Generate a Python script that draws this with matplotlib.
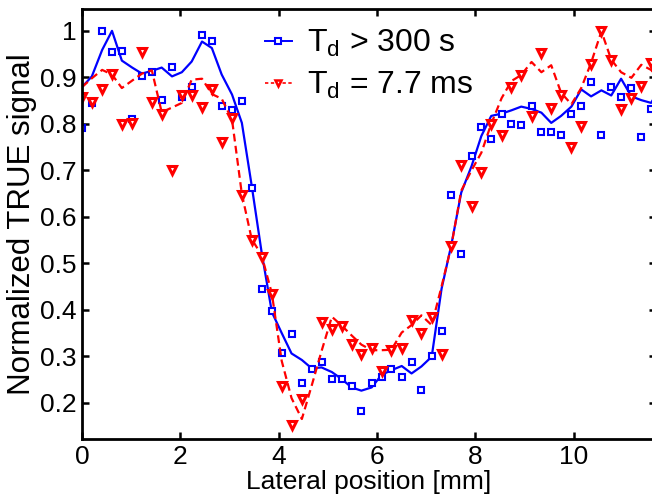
import numpy as np
import matplotlib
matplotlib.use('Agg')
import matplotlib.pyplot as plt

plt.rcParams['font.family'] = ['Liberation Sans', 'DejaVu Sans']
plt.rcParams['mathtext.fontset'] = 'custom'
plt.rcParams['mathtext.rm'] = 'Liberation Sans'
plt.rcParams['mathtext.it'] = 'Liberation Sans'

nan = np.nan

# lateral sample positions [mm]
x_mm = [0.00, 0.20, 0.41, 0.61, 0.81, 1.02, 1.22, 1.42, 1.62, 1.83,
        2.03, 2.23, 2.44, 2.64, 2.84, 3.05, 3.25, 3.45, 3.65, 3.86,
        4.06, 4.26, 4.47, 4.67, 4.87, 5.08, 5.28, 5.48, 5.68, 5.89,
        6.09, 6.29, 6.50, 6.70, 6.90, 7.11, 7.31, 7.51, 7.71, 7.92,
        8.12, 8.32, 8.53, 8.73, 8.93, 9.14, 9.34, 9.54, 9.74, 9.95,
        10.15, 10.35, 10.56, 10.76, 10.96, 11.17, 11.37, 11.57, 11.77]

# T_d > 300 s : raw samples and smoothed curve
slow_pts = [0.792, 0.845, 1.000, 0.954, 0.957, 0.811, 0.903, 0.911, 0.852, 0.922,
            0.857, 0.879, 0.991, 0.979, 0.839, 0.830, 0.849, 0.661, 0.445, 0.397,
            0.306, 0.347, 0.243, 0.273, 0.287, 0.251, 0.251, 0.236, 0.183, 0.243,
            0.255, 0.273, 0.256, 0.288, 0.228, 0.300, 0.355, 0.647, 0.520, 0.730,
            0.794, 0.768, 0.822, 0.800, 0.798, 0.839, 0.783, 0.782, 0.776, 0.822,
            0.839, 0.889, 0.776, 0.879, 0.857, 0.878, 0.771, 0.831, nan]
slow_fit = [0.879, 0.902, 0.959, 1.000, 0.936, 0.921, 0.908, 0.914, 0.921, 0.902,
            0.911, 0.934, 0.977, 0.963, 0.906, 0.863, 0.802, 0.667, 0.525, 0.395,
            0.350, 0.306, 0.292, 0.274, 0.276, 0.266, 0.251, 0.233, 0.226, 0.233,
            0.260, 0.270, 0.279, 0.263, 0.278, 0.299, 0.445, 0.540, 0.652, 0.709,
            0.774, 0.817, 0.822, 0.829, 0.837, 0.832, 0.824, 0.802, 0.817, 0.837,
            0.874, 0.859, 0.872, 0.861, 0.897, 0.859, 0.851, 0.845, 0.880]

# T_d = 7.7 ms : raw samples and smoothed curve
fast_pts = [0.857, 0.846, 0.874, 0.907, 0.800, 0.802, 0.954, 0.846, 0.822, 0.700,
            0.861, 0.861, 0.836, 0.874, 0.760, 0.812, 0.647, 0.550, 0.513, 0.433,
            0.236, 0.152, 0.209, nan, 0.374, 0.359, 0.366, 0.326, 0.304, 0.317,
            0.269, 0.313, 0.317, 0.378, 0.350, 0.385, 0.304, 0.538, 0.712, 0.624,
            0.697, 0.799, 0.777, 0.879, 0.906, 0.817, 0.952, 0.834, 0.863, 0.750,
            0.795, 0.929, 0.999, 0.938, 0.832, 0.855, 0.882, 0.931, nan]
fast_fit = [0.879, 0.898, 0.916, 0.906, 0.877, 0.893, 0.908, 0.915, 0.825, 0.835,
            0.845, 0.895, 0.897, 0.864, 0.854, 0.809, 0.649, 0.552, 0.518, 0.435,
            0.290, 0.210, 0.165, 0.237, 0.311, 0.385, 0.366, 0.345, 0.325, 0.313,
            0.313, 0.314, 0.351, 0.367, 0.388, 0.367, 0.450, 0.538, 0.656, 0.700,
            0.738, 0.800, 0.855, 0.892, 0.905, 0.933, 0.911, 0.926, 0.867, 0.842,
            0.877, 0.931, 0.999, 0.938, 0.911, 0.899, 0.927, 0.916, 0.890]

legend_labels = [r'T$_{\mathregular{d}}$ > 300 s', r'T$_{\mathregular{d}}$ = 7.7 ms']
x_ticks = [0, 2, 4, 6, 8, 10]
y_ticks = [0.2, 0.3, 0.4, 0.5, 0.6, 0.7, 0.8, 0.9, 1.0]
y_ticklabels = ['0.2', '0.3', '0.4', '0.5', '0.6', '0.7', '0.8', '0.9', '1']

fig = plt.figure(figsize=(6.52, 4.95), dpi=100)
ax = fig.add_axes([82 / 652, 56 / 495, 574 / 652, 430 / 495])

blue = (0, 0, 1)
red = (1, 0, 0)

ax.plot(x_mm, slow_fit, '-', color=blue, lw=1.6)
ax.plot(x_mm, slow_pts, 's', ls='none', mec=blue, mfc='white', ms=5, mew=1.5)
ax.plot(x_mm, fast_fit, '--', color=red, lw=1.6, dashes=(3.5, 2))
ax.plot(x_mm, fast_pts, 'v', ls='none', mec=red, mfc='white', ms=5.5, mew=2.2)

# legend proxies (line + marker)
h1, = ax.plot([], [], '-s', color=blue, mec=blue, mfc='white', ms=5, mew=1.5, lw=1.4)
h2, = ax.plot([], [], '--v', color=red, mec=red, mfc='white', ms=5, mew=1.8, lw=1.2,
              dashes=(2, 1.5))
ax.legend([h1, h2], legend_labels,
          loc='upper left', bbox_to_anchor=(0.318, 0.956), frameon=False, fontsize=23,
          handlelength=0.87, handletextpad=0.45, labelspacing=0.35,
          borderpad=0, borderaxespad=0)

ax.set_xlim(0, 11.67)
ax.set_ylim(0.122, 1.047)
ax.set_xticks(x_ticks)
ax.set_yticks(y_ticks)
ax.set_yticklabels(y_ticklabels)
ax.tick_params(direction='in', length=5, width=1.8, labelsize=19, top=True, right=True, pad=4)
for sp in ax.spines.values():
    sp.set_linewidth(2)

ax.set_xlabel('Lateral position [mm]', fontsize=19, labelpad=1)
ax.set_ylabel('Normalized TRUE signal', fontsize=22.5, labelpad=2)

fig.savefig('out.png', dpi=100)
